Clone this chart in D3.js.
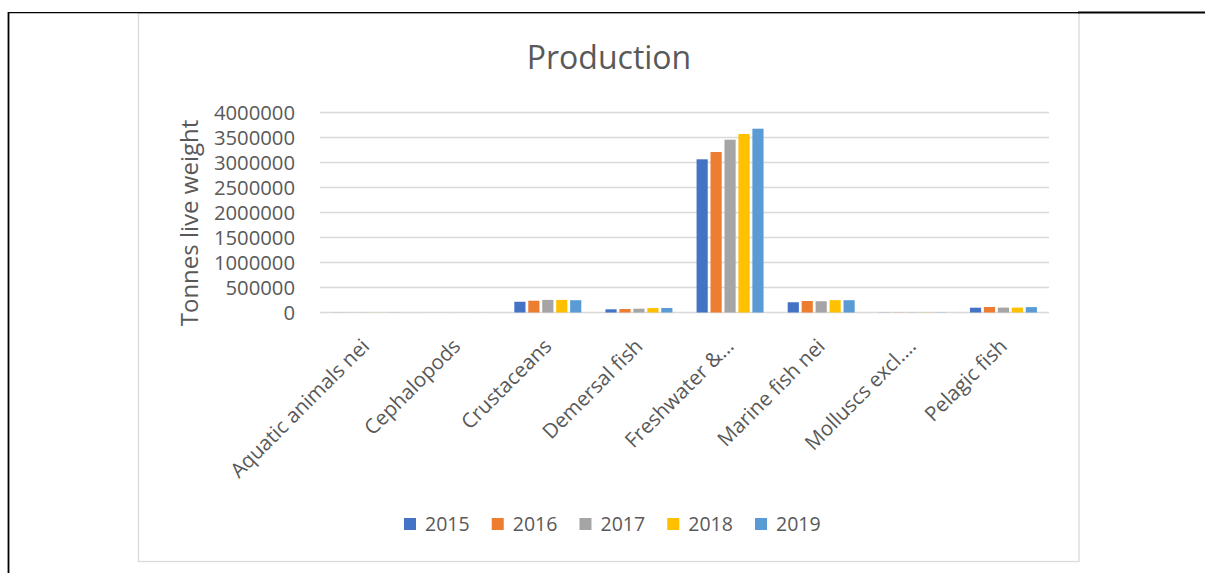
<!DOCTYPE html>
<html>
<head>
<meta charset="utf-8">
<script src="https://cdn.jsdelivr.net/npm/d3@7"></script>
<style>
  html, body { margin: 0; padding: 0; background: #fff; }
  svg { display: block; font-family: "Open Sans", "Noto Sans", sans-serif; }
</style>
</head>
<body>
<svg id="chart" width="1205" height="573"></svg>
<script>
// Aquaculture production by species group, tonnes live weight
const categories = ["Aquatic animals nei", "Cephalopods", "Crustaceans", "Demersal fish",
  "Freshwater & diadromous fish", "Marine fish nei", "Molluscs excl. cephalopods", "Pelagic fish"];
const categoryLabels = ["Aquatic animals nei", "Cephalopods", "Crustaceans", "Demersal fish",
  "Freshwater &…", "Marine fish nei", "Molluscs excl.…", "Pelagic fish"];
const years = ["2015", "2016", "2017", "2018", "2019"];
const values2015 = [1200, 300, 215000, 64000, 3064000, 205000, 2500, 96000];
const values2016 = [1300, 300, 236000, 70000, 3210000, 230000, 2600, 110000];
const values2017 = [1400, 400, 252000, 76000, 3456000, 225000, 2800, 98000];
const values2018 = [1500, 400, 252000, 88000, 3570000, 246000, 3000, 98000];
const values2019 = [1600, 500, 246000, 90000, 3676000, 246000, 3100, 108000];
const yTicks = [0, 500000, 1000000, 1500000, 2000000, 2500000, 3000000, 3500000, 4000000];
const colors = ["#4472C4", "#ED7D31", "#A5A5A5", "#FFC000", "#5B9BD5"];

const seriesValues = [values2015, values2016, values2017, values2018, values2019];
const rows = categories.map((c, i) => ({
  category: c,
  label: categoryLabels[i],
  bars: years.map((y, j) => ({ year: y, value: seriesValues[j][i] }))
}));

const svg = d3.select("#chart");
const textColor = "#595959";
const gridColor = "#d9d9d9";

// page frame lines
svg.append("line").attr("x1", 8.5).attr("x2", 8.5).attr("y1", 12).attr("y2", 573)
  .attr("stroke", "#000").attr("stroke-width", 1.8);

// chart area border
svg.append("rect").attr("x", 138.5).attr("y", 13.5).attr("width", 940.5).attr("height", 548)
  .attr("fill", "#fff").attr("stroke", gridColor).attr("stroke-width", 1.3);
svg.append("line").attr("x1", 1078).attr("x2", 1205).attr("y1", 12.5).attr("y2", 12.5)
  .attr("stroke", "#000").attr("stroke-width", 2);
svg.append("line").attr("x1", 8).attr("x2", 1079).attr("y1", 12.6).attr("y2", 12.6)
  .attr("stroke", "#000").attr("stroke-width", 1.3);

const plot = { left: 320, right: 1049, top: 112.5, bottom: 312.5 };

const x = d3.scaleBand().domain(categories).range([plot.left, plot.right]).padding(0);
const groupWidth = x.bandwidth() * 0.735;
const xInner = d3.scaleBand().domain(years).range([-groupWidth / 2, groupWidth / 2])
  .paddingInner(0.2).paddingOuter(0);
const y = d3.scaleLinear().domain([0, 4000000]).range([plot.bottom, plot.top]);

// gridlines
svg.append("g").selectAll("line").data(yTicks).join("line")
  .attr("x1", plot.left).attr("x2", plot.right)
  .attr("y1", d => y(d)).attr("y2", d => y(d))
  .attr("stroke", gridColor).attr("stroke-width", 1.6);

// y axis tick labels
const yAxis = d3.axisLeft(y).tickValues(yTicks).tickSize(0).tickPadding(0).tickFormat(d3.format("d"));
const yAxisG = svg.append("g").attr("transform", `translate(295,0)`).call(yAxis);
yAxisG.select(".domain").remove();
yAxisG.selectAll("text").attr("fill", textColor).attr("font-size", 19.5)
  .attr("font-family", "'Open Sans', sans-serif").attr("dy", "0.35em")
  .attr("transform", "scale(1.04,1)");

// y axis title
svg.append("text")
  .attr("transform", "translate(198,223) rotate(-90)")
  .attr("text-anchor", "middle")
  .attr("fill", textColor).attr("font-size", 24)
  .text("Tonnes live weight");

// chart title
svg.append("text").attr("x", 609).attr("y", 69).attr("text-anchor", "middle")
  .attr("fill", textColor).attr("font-size", 32).text("Production");

// bars
const groups = svg.append("g").selectAll("g").data(rows).join("g")
  .attr("transform", d => `translate(${x(d.category) + x.bandwidth() / 2},0)`);
groups.selectAll("rect").data(d => d.bars).join("rect")
  .attr("x", d => xInner(d.year))
  .attr("width", xInner.bandwidth())
  .attr("y", d => y(d.value))
  .attr("height", d => y(0) - y(d.value))
  .attr("fill", (d, i) => colors[i]);

// category labels, rotated
const xAxis = d3.axisBottom(x).tickSize(0).tickFormat((d, i) => categoryLabels[i]);
const xAxisG = svg.append("g").attr("transform", `translate(0,${plot.bottom})`).call(xAxis);
xAxisG.select(".domain").remove();
xAxisG.selectAll(".tick text")
  .attr("fill", textColor).attr("font-size", 20.5)
  .attr("font-family", "'Open Sans', sans-serif")
  .attr("text-anchor", "end")
  .attr("dy", null).attr("y", 0)
  .attr("transform", "translate(5,35) rotate(-45)");

// legend
const legend = svg.append("g").selectAll("g").data(years).join("g")
  .attr("transform", (d, i) => `translate(${404 + i * 87.75},518)`);
legend.append("rect").attr("width", 12).attr("height", 12).attr("fill", (d, i) => colors[i]);
legend.append("text").attr("x", 21).attr("y", 12.5).attr("fill", textColor)
  .attr("font-size", 19.5).text(d => d);
</script>
</body>
</html>
